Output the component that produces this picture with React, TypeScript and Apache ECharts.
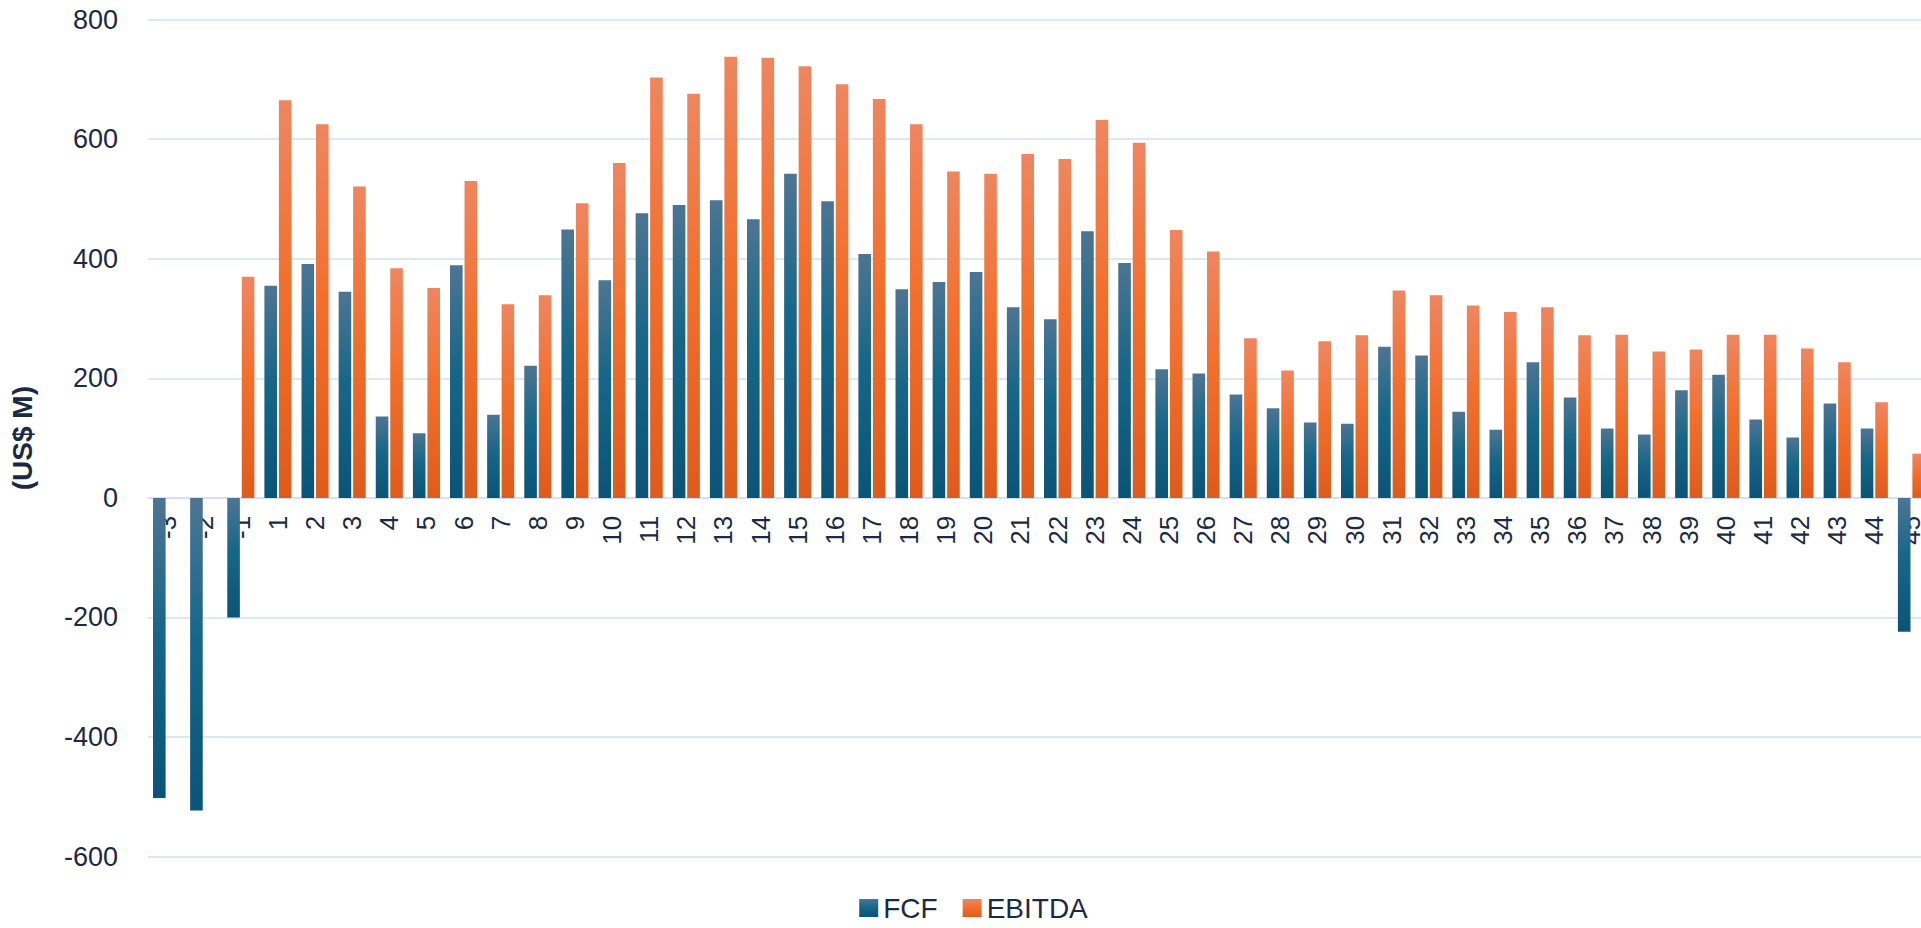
import React, { useEffect, useRef } from "react";
import * as echarts from "echarts";

const categories = ["-3", "-2", "-1", "1", "2", "3", "4", "5", "6", "7", "8", "9", "10", "11", "12", "13", "14", "15", "16", "17", "18", "19", "20", "21", "22", "23", "24", "25", "26", "27", "28", "29", "30", "31", "32", "33", "34", "35", "36", "37", "38", "39", "40", "41", "42", "43", "44", "45"];

const fcf = [-502, -523, -200, 355, 391, 345, 136, 108, 389, 139, 221, 449, 364, 476, 490, 498, 466, 542, 496, 408, 349, 361, 378, 319, 299, 446, 393, 215, 208, 173, 150, 126, 124, 253, 238, 144, 114, 227, 168, 116, 106, 180, 206, 131, 101, 158, 116, -224];

const ebitda = [null, null, 370, 665, 625, 521, 384, 351, 530, 324, 339, 493, 560, 703, 676, 738, 736, 722, 692, 667, 625, 546, 542, 575, 567, 632, 594, 448, 412, 267, 213, 262, 272, 347, 339, 322, 311, 319, 272, 273, 245, 248, 273, 273, 250, 227, 160, 74];

const yTicks = { min: -600, max: 800, interval: 200 };

const textColor = "#1b2a44";
const gridColor = "#cfe0f3";
const font = "'Liberation Sans', Arial, sans-serif";

const GRID_TOP = 19.6;
const GRID_BOTTOM = 71.4;
const CHART_H = 928;

export default function App() {
  const ref = useRef<HTMLDivElement>(null);
  useEffect(() => {
    if (!ref.current) return;
    const chart = echarts.init(ref.current, null, { renderer: "svg" });
    const fcfColor = new echarts.graphic.LinearGradient(0, 0, 0, 1, [
      { offset: 0, color: "#4d7593" },
      { offset: 0.45, color: "#176688" },
      { offset: 1, color: "#0a5477" },
    ]);
    const ebColor = new echarts.graphic.LinearGradient(0, 0, 0, 1, [
      { offset: 0, color: "#ee8660" },
      { offset: 0.45, color: "#f2702e" },
      { offset: 1, color: "#df5b1c" },
    ]);
    const plotH = CHART_H - GRID_TOP - GRID_BOTTOM;
    const zeroFromBottom = ((0 - yTicks.min) / (yTicks.max - yTicks.min)) * plotH;
    chart.setOption({
      animation: false,
      backgroundColor: "#ffffff",
      textStyle: { fontFamily: font },
      grid: { left: 147, right: 17, top: GRID_TOP, bottom: GRID_BOTTOM, containLabel: false },
      legend: {
        left: "center",
        bottom: 1,
        itemWidth: 19,
        itemHeight: 18,
        itemGap: 25,
        textStyle: { color: textColor, fontSize: 28, fontFamily: font },
        icon: "rect",
        data: ["FCF", "EBITDA"],
      },
      xAxis: {
        type: "category",
        data: categories,
        position: "bottom",
        offset: -zeroFromBottom,
        axisLine: { show: true, onZero: false, lineStyle: { color: gridColor, width: 1.5 } },
        axisTick: { show: false },
        axisLabel: {
          interval: 0,
          rotate: 90,
          margin: 18,
          color: textColor,
          fontSize: 26,
          fontFamily: font,
        },
      },
      yAxis: {
        type: "value",
        min: yTicks.min,
        max: yTicks.max,
        interval: yTicks.interval,
        name: "(US$ M)",
        nameLocation: "middle",
        nameGap: 112,
        nameRotate: 90,
        nameTextStyle: { color: textColor, fontSize: 28, fontWeight: "bold", fontFamily: font },
        axisLine: { show: false },
        axisTick: { show: false },
        splitLine: { lineStyle: { color: gridColor, width: 1.5 } },
        axisLabel: { color: textColor, fontSize: 27, margin: 30, fontFamily: font },
      },
      series: [
        {
          name: "FCF",
          type: "bar",
          data: fcf,
          barGap: "15%",
          barCategoryGap: "27%",
          itemStyle: { color: fcfColor },
        },
        {
          name: "EBITDA",
          type: "bar",
          data: ebitda,
          barGap: "15%",
          barCategoryGap: "27%",
          itemStyle: { color: ebColor },
        },
      ],
    });
    return () => chart.dispose();
  }, []);
  return (
    <div
      style={{
        position: "fixed",
        left: 0,
        top: 0,
        width: 1921,
        height: 928,
        overflow: "hidden",
        background: "#fff",
      }}
    >
      <div ref={ref} style={{ width: 1947, height: 928 }} />
    </div>
  );
}
